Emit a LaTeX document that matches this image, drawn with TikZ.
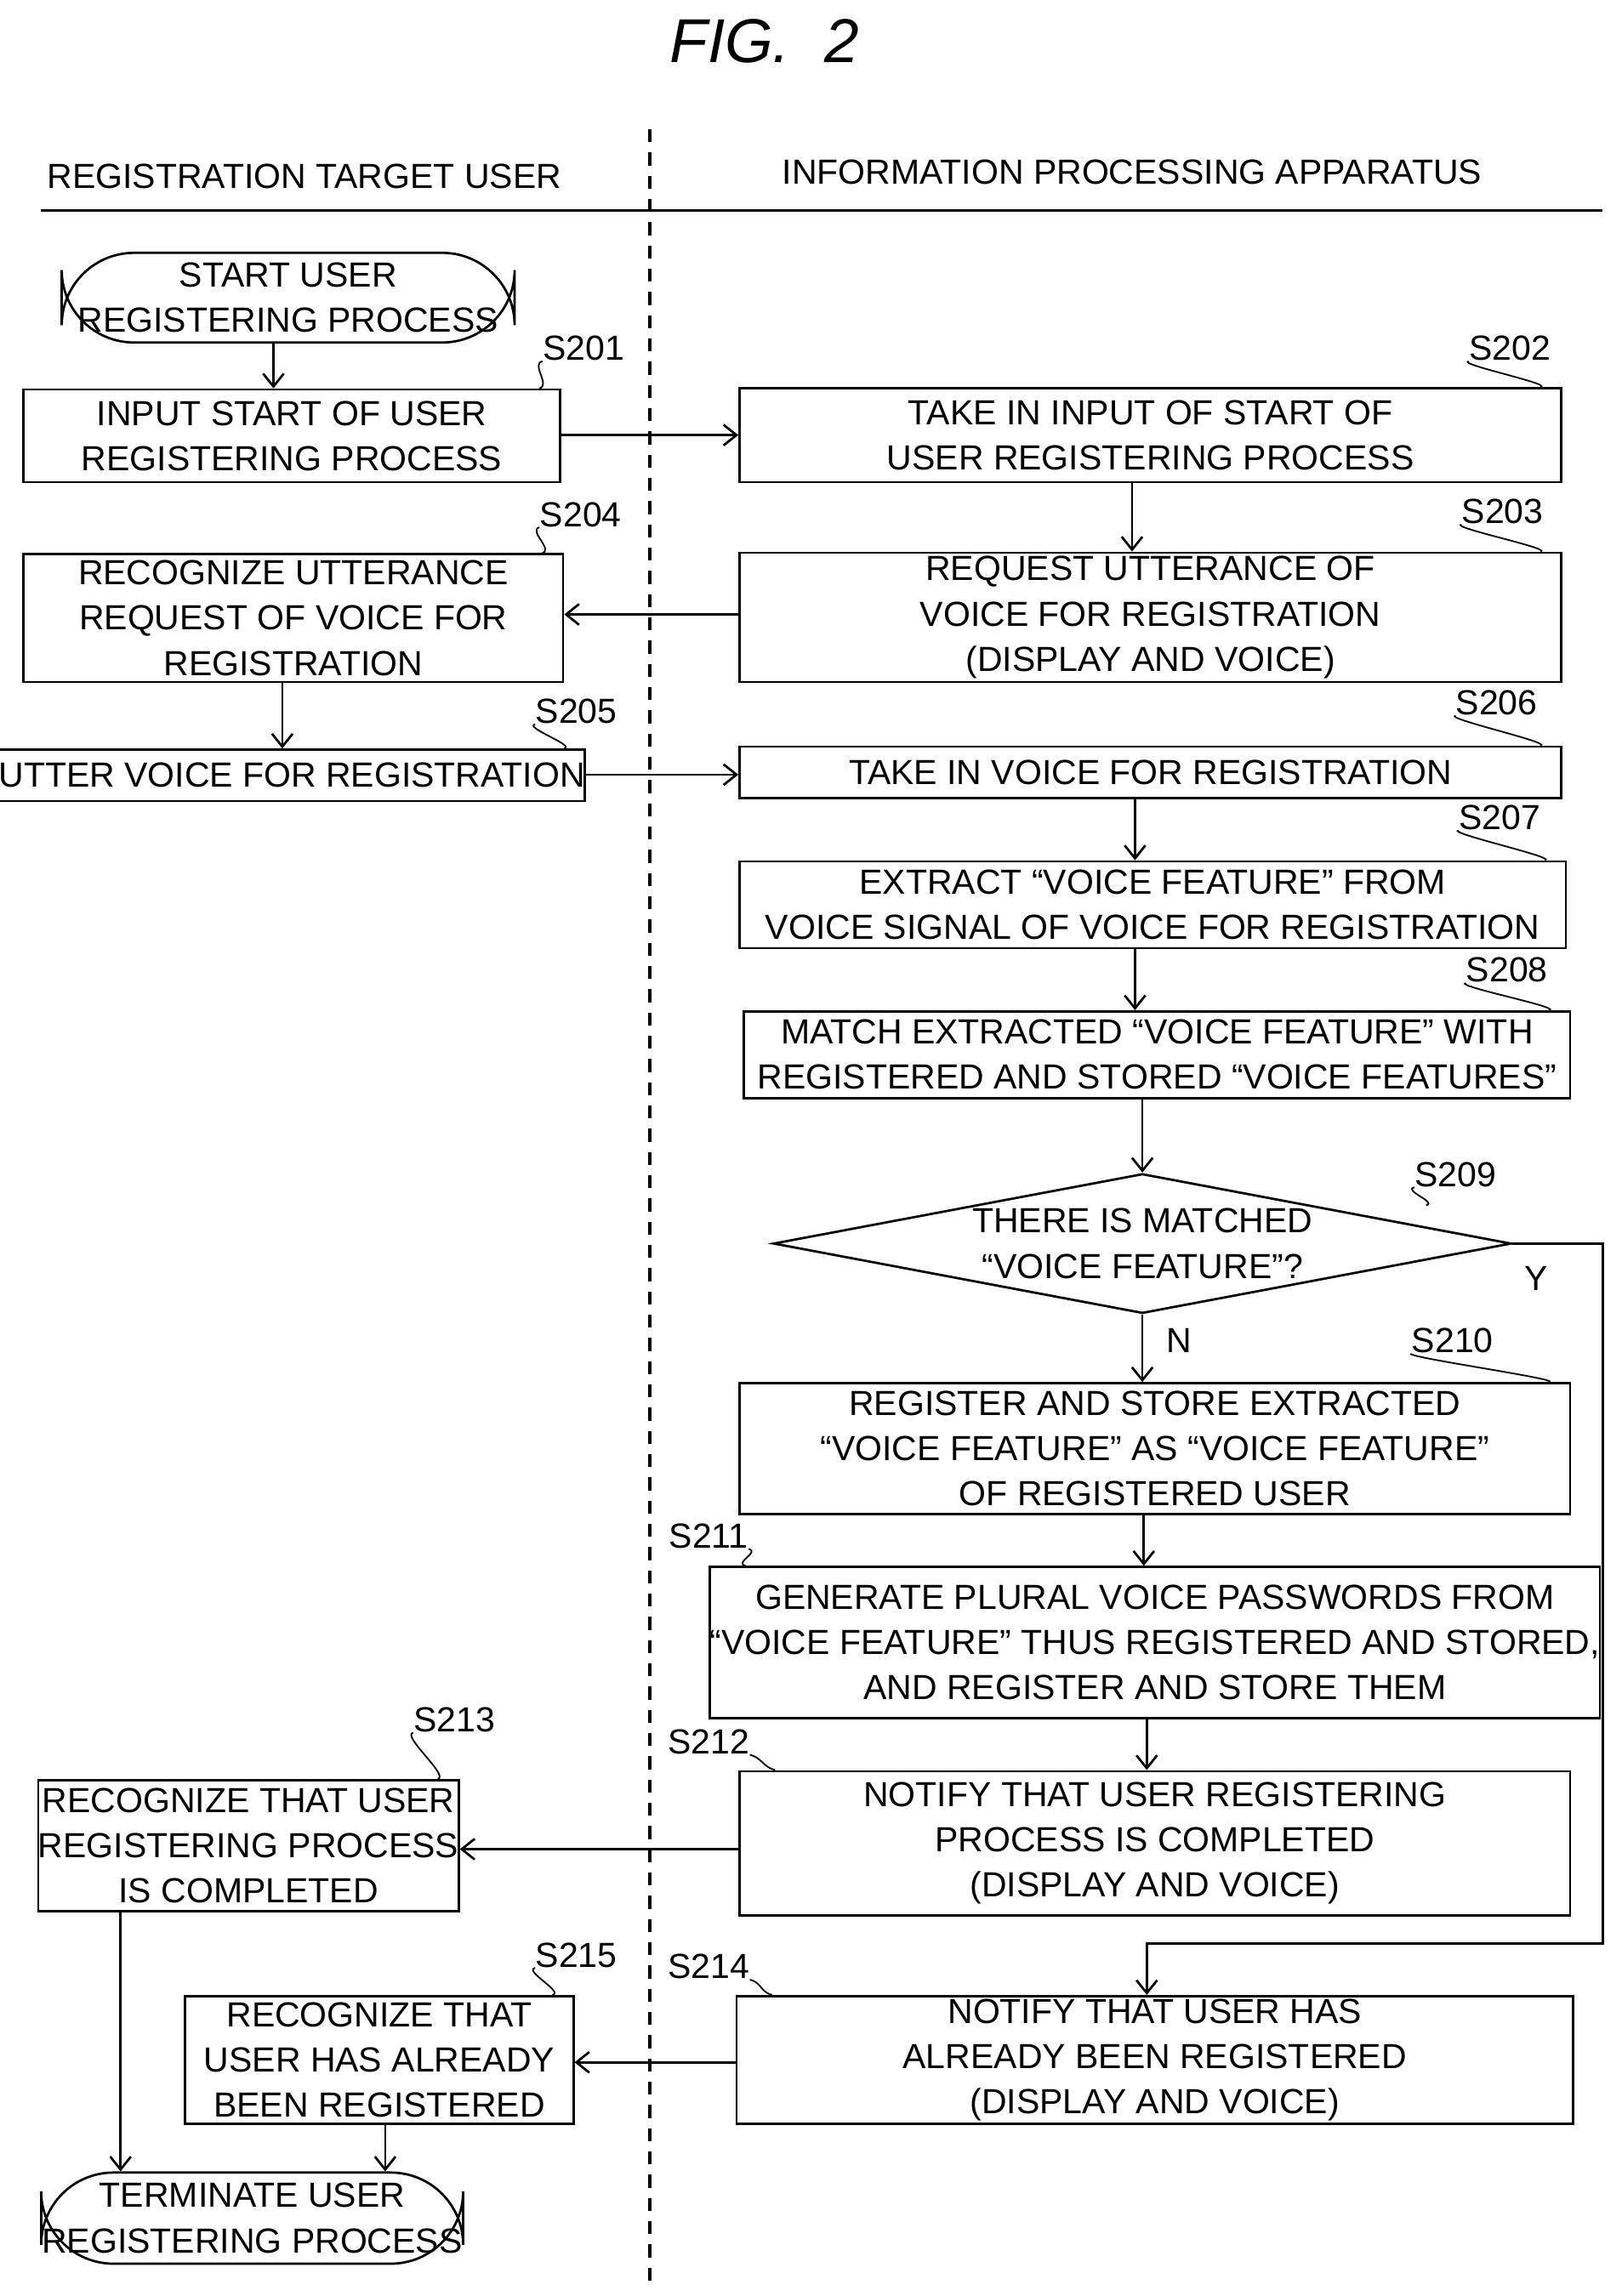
\documentclass[tikz,border=0pt]{standalone}
\usepackage{fontspec}
\setmainfont{Liberation Sans}
\usetikzlibrary{shapes.geometric,arrows.meta}
\newcommand{\bx}[7][]{\node[box,#1,minimum width={(#5-#3)*0.02cm},minimum height={(#6-#4)*0.02cm}] (#2) at ({(#3+#5)/2},{(#4+#6)/2}) {#7};}
\begin{document}
\begin{tikzpicture}[x=0.02cm,y=-0.02cm,
 every node/.style={font=\fontsize{13.5}{17.5}\selectfont,align=center,inner sep=0pt},
 box/.style={draw,line width=0.9pt},
 arr/.style={line width=0.9pt,-{Straight Barb[length=5pt,width=8pt]}},
 lab/.style={font=\fontsize{13.5}{16}\selectfont},
 lead/.style={line width=0.6pt}]
\useasboundingbox (0,0) rectangle (1103,1562);
\node (title) at (520,28) {\fontsize{24}{28}\selectfont\itshape FIG.\ \ 2};
\node (h1) at (207,120) {REGISTRATION TARGET USER};
\node (h2) at (770,117) {INFORMATION PROCESSING APPARATUS};
\coordinate (hl) at (28,143); \coordinate (hr) at (1090,143);
\draw[line width=0.9pt] (hl) -- (hr);
\coordinate (dt) at (442,88); \coordinate (db) at (442,1555);
\draw[line width=1.2pt,dash pattern=on 5pt off 4pt] (dt) -- (db);
\bx[rounded corners=28pt]{st}{42}{172}{350}{233}{START USER\\REGISTERING PROCESS}
\bx{s201}{16}{265}{381}{328}{INPUT START OF USER\\REGISTERING PROCESS}
\bx{s202}{503}{264}{1062}{328}{TAKE IN INPUT OF START OF\\USER REGISTERING PROCESS}
\bx{s203}{503}{376}{1062}{464}{REQUEST UTTERANCE OF\\VOICE FOR REGISTRATION\\(DISPLAY AND VOICE)}
\bx{s204}{16}{377}{383}{464}{RECOGNIZE UTTERANCE\\REQUEST OF VOICE FOR\\REGISTRATION}
\bx{s205}{16}{510}{381}{545}{UTTER VOICE FOR REGISTRATION}
\bx{s206}{503}{508}{1062}{543}{TAKE IN VOICE FOR REGISTRATION}
\bx{s207}{503}{586}{1065}{645}{EXTRACT ``VOICE FEATURE'' FROM\\VOICE SIGNAL OF VOICE FOR REGISTRATION}
\bx{s208}{506}{688}{1068}{747}{MATCH EXTRACTED ``VOICE FEATURE'' WITH\\REGISTERED AND STORED ``VOICE FEATURES''}
\node[draw,line width=0.9pt,diamond,aspect=5.3,minimum width={502*0.02cm},minimum height={95*0.02cm},inner sep=0pt] (s209) at (777,846) {};
\node (t209) at (777,846) {THERE IS MATCHED\\``VOICE FEATURE''?};
\bx{s210}{503}{941}{1068}{1030}{REGISTER AND STORE EXTRACTED\\``VOICE FEATURE'' AS ``VOICE FEATURE''\\OF REGISTERED USER}
\bx{s211}{503}{1066}{1068}{1169}{GENERATE PLURAL VOICE PASSWORDS FROM\\``VOICE FEATURE'' THUS REGISTERED AND STORED,\\AND REGISTER AND STORE THEM}
\bx{s212}{503}{1205}{1068}{1303}{NOTIFY THAT USER REGISTERING\\PROCESS IS COMPLETED\\(DISPLAY AND VOICE)}
\bx{s213}{40}{1211}{298}{1300}{RECOGNIZE THAT USER\\REGISTERING PROCESS\\IS COMPLETED}
\bx{s214}{501}{1358}{1070}{1445}{NOTIFY THAT USER HAS\\ALREADY BEEN REGISTERED\\(DISPLAY AND VOICE)}
\bx{s215}{126}{1358}{390}{1445}{RECOGNIZE THAT\\USER HAS ALREADY\\BEEN REGISTERED}
\bx[rounded corners=28pt]{te}{28}{1478}{315}{1540}{TERMINATE USER\\REGISTERING PROCESS}
% step labels
\node[lab] (l201) at (397,237) {S201};
\node[lab] (l202) at (1027,237) {S202};
\node[lab] (l203) at (1022,348) {S203};
\node[lab] (l204) at (395,350) {S204};
\node[lab] (l205) at (392,484) {S205};
\node[lab] (l206) at (1018,478) {S206};
\node[lab] (l207) at (1020,556) {S207};
\node[lab] (l208) at (1025,660) {S208};
\node[lab] (l209) at (990,799) {S209};
\node[lab] (l210) at (988,912) {S210};
\node[lab] (l211) at (482,1045) {S211};
\node[lab] (l212) at (482,1185) {S212};
\node[lab] (l213) at (309,1170) {S213};
\node[lab] (l214) at (482,1338) {S214};
\node[lab] (l215) at (392,1330) {S215};
\node[lab] (ly) at (1045,870) {Y};
\node[lab] (ln) at (802,912) {N};
% leaders
\foreach \l/\b in {l201/s201,l202/s202,l203/s203,l204/s204,l205/s205,l206/s206,l207/s207,l208/s208,l210/s210,l213/s213,l215/s215}
  \draw[lead] (\l.south west) .. controls +(-8,2) and +(8,-2) .. ([xshift=-0.3cm]\b.north east);
\draw[lead] (l209.south west) .. controls +(-8,2) and +(8,-2) .. (970,820);
\foreach \l/\b in {l211/s211,l212/s212,l214/s214}
  \draw[lead] (\l.south east) .. controls +(8,2) and +(-8,-2) .. ([xshift=0.5cm]\b.north west);
% arrows
\draw[arr] (st.south -| 186,0) -- (s201.north -| 186,0);
\draw[arr] (s201.east |- 0,296) -- (s202.west |- 0,296);
\draw[arr] (s202.south -| 770,0) -- (s203.north -| 770,0);
\draw[arr] (s203.west |- 0,418) -- (s204.east |- 0,418);
\draw[arr] (s204.south -| 192,0) -- (s205.north -| 192,0);
\draw[arr] (s205.east |- 0,527) -- (s206.west |- 0,527);
\draw[arr] (s206.south -| 772,0) -- (s207.north -| 772,0);
\draw[arr] (s207.south -| 772,0) -- (s208.north -| 772,0);
\draw[arr] (s208.south -| 777,0) -- (s209.north);
\draw[arr] (s209.south) -- (s210.north -| 777,0);
\draw[arr] (s210.south -| 778,0) -- (s211.north -| 778,0);
\draw[arr] (s211.south -| 780,0) -- (s212.north -| 780,0);
\draw[arr] (s209.east) -- (1090,846) -- (1090,1322) -- (780,1322) -- (s214.north -| 780,0);
\draw[arr] (s212.west |- 0,1258) -- (s213.east |- 0,1258);
\draw[arr] (s214.west |- 0,1403) -- (s215.east |- 0,1403);
\draw[arr] (s213.south -| 82,0) -- (te.north -| 82,0);
\draw[arr] (s215.south -| 262,0) -- (te.north -| 262,0);
\end{tikzpicture}
\end{document}
